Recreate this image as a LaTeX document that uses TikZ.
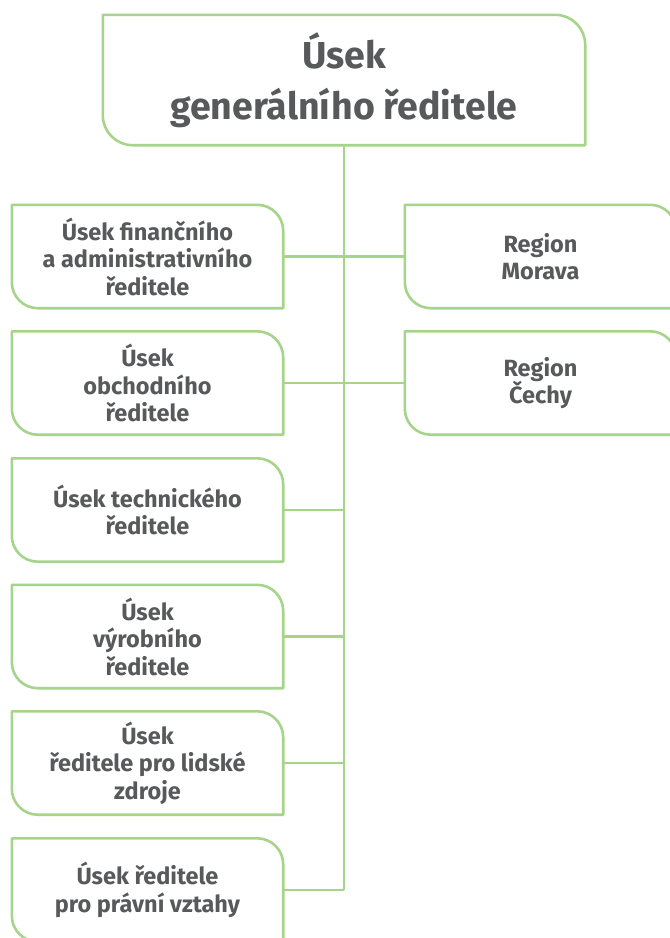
\documentclass[tikz,border=0pt]{standalone}
\usepackage{fontspec}
\setmainfont{Fira Sans}
\definecolor{boxgreen}{HTML}{A7D48B}
\definecolor{txtgray}{HTML}{58595B}
\tikzset{
  boxline/.style={draw=boxgreen, line width=2.6pt, line join=round},
  conn/.style={draw=boxgreen, line width=2.6pt},
  bigbox/.style={inner sep=0pt, minimum width=482pt, minimum height=130pt, align=center,
    text=txtgray, font=\fontsize{37.5}{51}\selectfont\bfseries},
  smallbox/.style={inner sep=0pt, minimum width=271pt, minimum height=103pt, align=center,
    text=txtgray, font=\fontsize{23.5}{27.5}\selectfont\bfseries},
}
\newcommand{\outline}[2]{%
  \draw[boxline] (#1.north west) -- ([xshift=-#2pt]#1.north east)
    arc[start angle=90,end angle=0,radius=#2pt] -- (#1.south east)
    -- ([xshift=#2pt]#1.south west) arc[start angle=270,end angle=180,radius=#2pt] -- cycle;}
\begin{document}
\begin{tikzpicture}[x=1pt,y=1pt]
\useasboundingbox (0,0) rectangle (670,-938);
\clip (0,0) rectangle (670,-938);
\fill[white] (0,0) rectangle (670,-938);
\node[bigbox] (top) at (344,-80) {Úsek\\generálního ředitele};
\outline{top}{30}
\node[smallbox] (b1) at (147.5,-256.5) {Úsek finančního\\a administrativního\\ředitele};
\node[smallbox] (b2) at (147.5,-383) {Úsek\\obchodního\\ředitele};
\node[smallbox] (b3) at (147.5,-510) {Úsek technického\\ředitele};
\node[smallbox] (b4) at (147.5,-636.5) {Úsek\\výrobního\\ředitele};
\node[smallbox] (b5) at (147.5,-763) {Úsek\\ředitele pro lidské\\zdroje};
\node[smallbox] (b6) at (147.5,-890) {Úsek ředitele\\pro právní vztahy};
\node[smallbox] (r1) at (540.5,-256.5) {Region\\Morava};
\node[smallbox] (r2) at (540.5,-383) {Region\\Čechy};
\foreach \b in {b1,b2,b3,b4,b5,b6,r1,r2}{\outline{\b}{26}}
\coordinate (spineend) at (b6.east -| top.south);
\draw[conn] (top.south) -- (spineend);
\foreach \b in {b1,b2,b3,b4,b5,b6}{\draw[conn] (\b.east) -- (\b.east -| top.south);}
\foreach \b in {r1,r2}{\draw[conn] (\b.west) -- (\b.west -| top.south);}
\end{tikzpicture}
\end{document}
